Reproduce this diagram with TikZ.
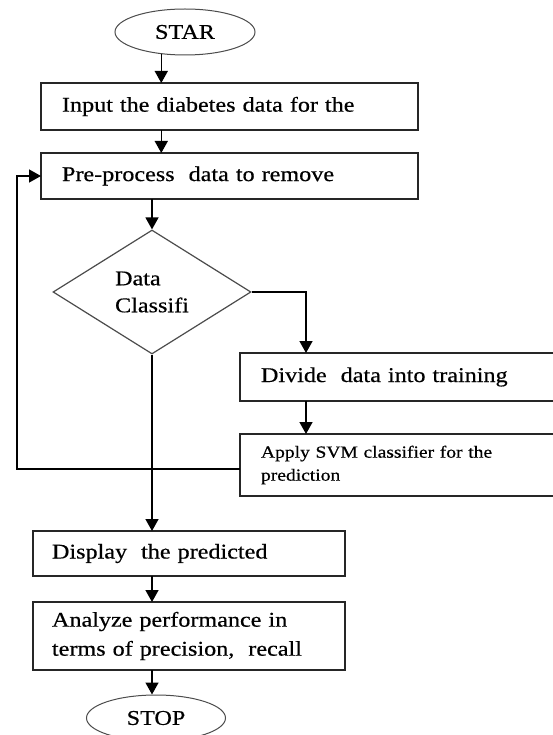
\documentclass[tikz,border=0pt]{standalone}
\usepackage{fontspec}
\setmainfont{Liberation Serif}[FakeStretch=1.15, FakeBold=0.5]
\usetikzlibrary{arrows.meta, shapes.geometric, positioning}

\tikzset{
  flowbox/.style={rectangle, draw=black!85, line width=1.4pt, outer sep=0pt,
    anchor=north west, align=left, inner ysep=0pt, font=\fontsize{21}{29}\selectfont},
  terminal/.style={ellipse, draw=black!70, line width=1pt, inner sep=0pt,
    font=\fontsize{21}{24}\selectfont},
  decision/.style={diamond, draw=black!70, line width=1.2pt, inner sep=0pt,
    align=left, font=\fontsize{21}{27}\selectfont},
  arr/.style={-{Triangle[width=13pt,length=12pt]}, line width=1.5pt},
}

\begin{document}
\begin{tikzpicture}[x=1pt, y=-1pt]
  \useasboundingbox (0,0) rectangle (553,735);
  \clip (0,0) rectangle (553,735);
  \fill[white] (0,0) rectangle (553,735);

  \node[terminal, minimum width=140pt, minimum height=46pt] (star) at (185,32) {STAR};
  \node[flowbox, text width=335pt, inner xsep=21pt, minimum height=47pt] (input) at (41,83)
    {Input the diabetes data for the};
  \node[flowbox, text width=335pt, inner xsep=21pt, minimum height=46pt] (preproc) at (41,153)
    {Pre-process~ data to remove};
  \node[decision, minimum width=198pt, minimum height=124pt] (classify) at (152,292)
    {Data\\Classifi};
  \node[flowbox, text width=300pt, inner xsep=21pt, minimum height=48pt] (divide) at (240,353)
    {Divide~ data into training};
  \node[flowbox, text width=300pt, inner xsep=21pt, minimum height=62pt,
    font=\fontsize{17}{23}\selectfont] (apply) at (240,434)
    {Apply SVM classifier for the\\prediction};
  \node[flowbox, text width=274pt, inner xsep=19pt, minimum height=45pt] (display) at (33,531)
    {Display~ the predicted};
  \node[flowbox, text width=274pt, inner xsep=19pt, minimum height=68pt] (analyze) at (33,602)
    {Analyze performance in\\terms of precision,~ recall};
  \node[terminal, minimum width=139pt, minimum height=46pt] (stop) at (156,718) {STOP};

  \coordinate (turn) at (306,292);
  \coordinate (back) at (17,469);

  \draw[arr] (star.223) -- (star.223 |- input.north);
  \draw[arr] (star.223 |- input.south) -- (star.223 |- preproc.north);
  \draw[arr] (classify.north |- preproc.south) -- (classify.north);
  \draw[arr] (classify.east) -- (classify.east -| turn) -- (turn |- divide.north);
  \draw[arr] (turn |- divide.south) -- (turn |- apply.north);
  \draw[arr] (apply.west |- back) -- (back) |- (preproc.west);
  \draw[arr] (classify.south) -- (classify.south |- display.north);
  \draw[arr] (classify.south |- display.south) -- (classify.south |- analyze.north);
  \draw[arr] (classify.south |- analyze.south) -- (classify.south |- stop.north);
\end{tikzpicture}
\end{document}
